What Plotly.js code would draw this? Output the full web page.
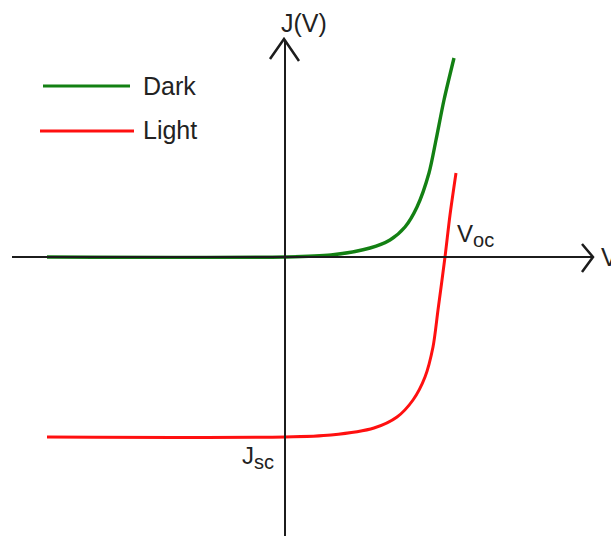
<!DOCTYPE html>
<html>
<head>
<meta charset="utf-8">
<script src="https://cdn.plot.ly/plotly-3.0.1.min.js"></script>
<style>
  html, body { margin: 0; padding: 0; background: #ffffff; }
  #chart { width: 611px; height: 536px; }
</style>
</head>
<body>
<div id="chart"></div>
<script>
// Current density J versus voltage V for a solar cell, in the dark and under light
// (arbitrary units; V = 0 and J = 0 are the drawn axes).
const darkV  = [-2.38, 0.00, 0.46, 0.85, 1.05, 1.20, 1.32, 1.44, 1.51, 1.59, 1.69];
const darkJ  = [ 0.00, 0.00, 0.02, 0.09, 0.17, 0.30, 0.50, 0.84, 1.17, 1.57, 1.99];
const lightV = [-2.38, 0.00, 0.46, 0.89, 1.12, 1.28, 1.40, 1.48, 1.53, 1.60, 1.65, 1.71];
const lightJ = [-1.80, -1.80, -1.78, -1.71, -1.60, -1.43, -1.20, -0.90, -0.53, 0.00, 0.42, 0.84];
const seriesNames = ["Dark", "Light"];
const seriesColors = ["#138013", "#ff1010"];

const axisColor = "#1c1c1c";
const fontFamily = "Liberation Sans, Arial, sans-serif";
const textFont = { family: fontFamily, size: 25, color: "#222222" };
const markFont = { family: fontFamily, size: 24, color: "#222222" };

const traces = [
  { x: darkV, y: darkJ, name: seriesNames[0], mode: "lines",
    line: { color: seriesColors[0], width: 3.4, shape: "spline", smoothing: 0.8 } },
  { x: lightV, y: lightJ, name: seriesNames[1], mode: "lines",
    line: { color: seriesColors[1], width: 3, shape: "spline", smoothing: 0.8 } }
];

// Axis lines with open arrowheads, drawn in data units
const shapes = [
  { type: "line", x0: -2.73, x1: 3.07, y0: 0, y1: 0, line: { color: axisColor, width: 2 } },
  { type: "path", path: "M 2.97,0.13 L 3.08,0 L 2.97,-0.15", line: { color: axisColor, width: 2.5 } },
  { type: "line", x0: 0, x1: 0, y0: -2.85, y1: 2.17, line: { color: axisColor, width: 2 } },
  { type: "path", path: "M -0.15,1.98 L -0.01,2.18 L 0.14,1.96", line: { color: axisColor, width: 2.5 } },
  // legend keys
  { type: "line", x0: -2.42, x1: -1.55, y0: 1.71, y1: 1.71, line: { color: seriesColors[0], width: 3 } },
  { type: "line", x0: -2.45, x1: -1.51, y0: 1.26, y1: 1.26, line: { color: seriesColors[1], width: 3 } }
];

const sub = s => '<sub><span style="font-size:20px">' + s + '</span></sub>';

const annotations = [
  { x: 0.19, y: 2.34, text: "J(V)", xanchor: "center", yanchor: "middle", font: textFont },
  { x: 3.14, y: 0.0, text: "V", xanchor: "left", yanchor: "middle", font: textFont },
  { x: 1.70, y: 0.22, text: "V" + sub("oc"), xanchor: "left", yanchor: "middle", font: markFont },
  { x: -0.09, y: -2.00, text: "J" + sub("sc"), xanchor: "right", yanchor: "middle", font: markFont },
  { x: -1.44, y: 1.71, text: seriesNames[0], xanchor: "left", yanchor: "middle", font: textFont },
  { x: -1.44, y: 1.27, text: seriesNames[1], xanchor: "left", yanchor: "middle", font: textFont }
].map(a => Object.assign({ xref: "x", yref: "y", showarrow: false }, a));

const layout = {
  width: 611, height: 536,
  margin: { l: 0, r: 0, t: 0, b: 0 },
  paper_bgcolor: "#ffffff", plot_bgcolor: "#ffffff",
  showlegend: false,
  xaxis: { range: [-2.85, 3.26], visible: false, fixedrange: true },
  yaxis: { range: [-2.79, 2.57], visible: false, fixedrange: true },
  shapes: shapes,
  annotations: annotations
};

Plotly.newPlot("chart", traces, layout, { staticPlot: true, displayModeBar: false });
</script>
</body>
</html>
